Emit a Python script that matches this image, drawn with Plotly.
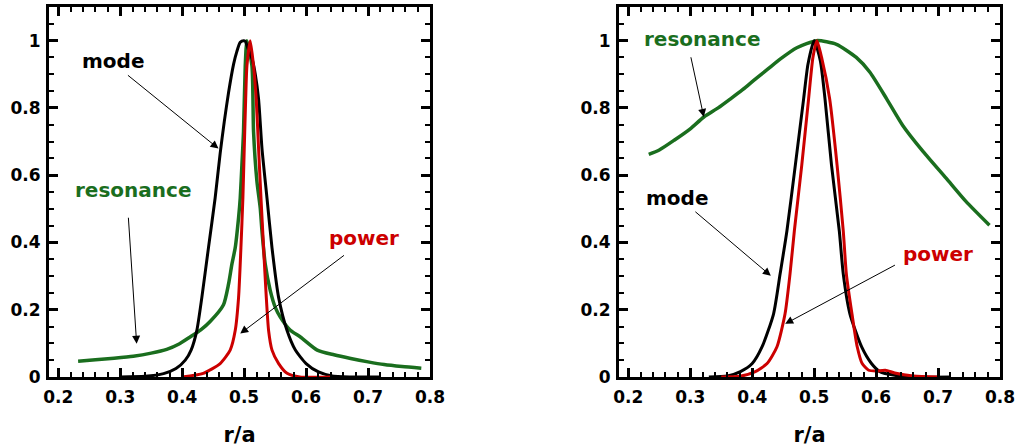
import plotly.graph_objects as go

# ---------------- data ----------------
# Left panel
left_mode_x = [0.30, 0.34, 0.37, 0.39, 0.405, 0.4144, 0.4236, 0.4317, 0.4424, 0.4532, 0.4613,
               0.468, 0.4748, 0.483, 0.4883, 0.4937, 0.4991, 0.5018, 0.507, 0.513, 0.518, 0.5233,
               0.5288, 0.5369, 0.545, 0.5557, 0.5693, 0.5827, 0.60, 0.62, 0.64, 0.67, 0.72]
left_mode_y = [0.0, 0.002, 0.01, 0.025, 0.05, 0.08, 0.138, 0.236, 0.384, 0.532, 0.665,
               0.76, 0.845, 0.93, 0.968, 0.995, 1.0, 0.998, 0.972, 0.945, 0.9, 0.827,
               0.68, 0.532, 0.384, 0.236, 0.138, 0.08, 0.04, 0.015, 0.004, 0.0, 0.0]

left_power_x = [0.40, 0.434, 0.4613, 0.4775, 0.4856, 0.491, 0.4948, 0.498, 0.5002, 0.5025, 0.5045,
                0.5099, 0.5152, 0.5195, 0.5233, 0.5272, 0.5314, 0.5358, 0.5395, 0.545, 0.5557,
                0.5693, 0.59, 0.64]
left_power_y = [0.0, 0.011, 0.04, 0.08, 0.138, 0.236, 0.384, 0.532, 0.68, 0.827, 0.925,
                1.0, 0.925, 0.827, 0.68, 0.532, 0.384, 0.236, 0.138, 0.08, 0.04,
                0.011, 0.0, 0.0]

left_res_x = [0.232, 0.26, 0.29, 0.321, 0.35, 0.375, 0.395, 0.4128, 0.43, 0.4451, 0.4667, 0.4748,
              0.4802, 0.4856, 0.491, 0.4937, 0.4964, 0.499, 0.5018, 0.5045, 0.5126, 0.5152,
              0.5207, 0.526, 0.5288, 0.5341, 0.5422, 0.5503, 0.5584, 0.5746, 0.5908, 0.618,
              0.645, 0.672, 0.70, 0.726, 0.755, 0.786]
left_res_y = [0.047, 0.051, 0.056, 0.062, 0.071, 0.082, 0.098, 0.119, 0.14, 0.165, 0.215, 0.276,
              0.335, 0.384, 0.473, 0.532, 0.63, 0.729, 0.925, 1.0, 0.925, 0.729,
              0.581, 0.502, 0.434, 0.335, 0.257, 0.207, 0.178, 0.139, 0.119, 0.08,
              0.066, 0.055, 0.045, 0.037, 0.031, 0.026]

# Right panel
right_mode_x = [0.33, 0.36, 0.381, 0.40, 0.416, 0.4345, 0.445, 0.456, 0.4696, 0.483, 0.49,
                0.50, 0.51, 0.5175, 0.528, 0.5406, 0.547, 0.5577, 0.5765, 0.5925, 0.606,
                0.63, 0.66, 0.72]
right_mode_y = [0.0, 0.003, 0.016, 0.04, 0.09, 0.188, 0.306, 0.434, 0.63, 0.827, 0.93,
                1.0, 0.94, 0.827, 0.63, 0.434, 0.306, 0.188, 0.09, 0.04, 0.016,
                0.005, 0.0, 0.0]

right_power_x = [0.35, 0.38, 0.405, 0.424, 0.44, 0.453, 0.461, 0.468, 0.48, 0.491, 0.498,
                 0.5045, 0.512, 0.525, 0.537, 0.547, 0.552, 0.561, 0.5695, 0.5775, 0.588,
                 0.60, 0.615, 0.63, 0.66, 0.70]
right_power_y = [0.0, 0.002, 0.016, 0.04, 0.09, 0.188, 0.306, 0.434, 0.63, 0.827, 0.95,
                 1.0, 0.95, 0.827, 0.63, 0.434, 0.306, 0.188, 0.09, 0.04, 0.02,
                 0.018, 0.02, 0.012, 0.003, 0.0]

right_res_x = [0.233, 0.25, 0.274, 0.30, 0.322, 0.345, 0.365, 0.385, 0.402, 0.425, 0.445,
               0.472, 0.504, 0.536, 0.568, 0.59, 0.617, 0.643, 0.676, 0.713, 0.745, 0.783]
right_res_y = [0.662, 0.675, 0.704, 0.738, 0.773, 0.80, 0.827, 0.855, 0.881, 0.915, 0.945,
               0.979, 1.0, 0.989, 0.95, 0.906, 0.827, 0.748, 0.67, 0.591, 0.522, 0.451]

x_tick_vals = [0.2, 0.3, 0.4, 0.5, 0.6, 0.7, 0.8]
x_tick_text = ["0.2", "0.3", "0.4", "0.5", "0.6", "0.7", "0.8"]
y_tick_vals = [0, 0.2, 0.4, 0.6, 0.8, 1.0]
y_tick_text = ["0", "0.2", "0.4", "0.6", "0.8", "1"]

BLACK = "#000000"
RED = "#cc0000"
GREEN = "#1a6e1e"
FONT = "DejaVu Sans"
X_RANGE = [0.185, 0.8]
Y_RANGE = [0, 1.1]

fig = go.Figure()

def add_line(x, y, color, xa, ya, width=3):
    fig.add_trace(go.Scatter(x=x, y=y, mode="lines", xaxis=xa, yaxis=ya,
                             line=dict(color=color, width=width, shape="spline", smoothing=0.6),
                             showlegend=False, hoverinfo="skip"))

add_line(left_res_x, left_res_y, GREEN, "x", "y", 3.5)
add_line(left_mode_x, left_mode_y, BLACK, "x", "y")
add_line(left_power_x, left_power_y, RED, "x", "y")

add_line(right_res_x, right_res_y, GREEN, "x2", "y2", 3.5)
add_line(right_mode_x, right_mode_y, BLACK, "x2", "y2")
add_line(right_power_x, right_power_y, RED, "x2", "y2")

tick_common = dict(
    ticks="inside", ticklen=9, tickwidth=2.5, tickcolor="black",
    showgrid=False, zeroline=False,
    tickfont=dict(family=FONT, size=17, color="black", weight="bold"),
)
x_minor = dict(dtick=0.02, tick0=0.2, ticks="inside", ticklen=5, tickwidth=2, tickcolor="black")
y_minor = dict(dtick=0.05, tick0=0, ticks="inside", ticklen=5, tickwidth=2, tickcolor="black")
title_font = dict(family=FONT, size=21, color="black", weight="bold")

def main_x(domain, anchor):
    return dict(domain=domain, anchor=anchor, range=X_RANGE, tickvals=x_tick_vals,
                ticktext=x_tick_text, minor=x_minor, ticklabelstandoff=3,
                showline=True, linewidth=3, linecolor="black", mirror=True,
                title=dict(text="r/a", font=title_font, standoff=21), **tick_common)

def main_y(anchor):
    return dict(anchor=anchor, range=Y_RANGE, tickvals=y_tick_vals, ticktext=y_tick_text,
                minor=y_minor, ticklabelstandoff=2,
                showline=True, linewidth=3, linecolor="black", mirror=True, **tick_common)

def top_x(over, anchor):
    return dict(overlaying=over, anchor=anchor, side="top", range=X_RANGE,
                tickvals=x_tick_vals, showticklabels=False, minor=x_minor,
                showline=False, **tick_common)

def right_y(over, anchor):
    return dict(overlaying=over, anchor=anchor, side="right", range=Y_RANGE,
                tickvals=y_tick_vals, showticklabels=False, minor=y_minor,
                showline=False, **tick_common)

fig.update_layout(
    xaxis=main_x([0.0, 0.4006], "y"),
    yaxis=main_y("x"),
    xaxis2=main_x([0.5994, 1.0], "y2"),
    yaxis2=main_y("x2"),
    xaxis3=top_x("x", "y"),
    yaxis3=right_y("y", "x"),
    xaxis4=top_x("x2", "y2"),
    yaxis4=right_y("y2", "x2"),
)

# invisible traces so the overlay axes are drawn
for xa, ya in (("x3", "y3"), ("x4", "y4")):
    fig.add_trace(go.Scatter(x=[None], y=[None], xaxis=xa, yaxis=ya, mode="lines",
                             showlegend=False, hoverinfo="skip"))

ann_font = lambda color: dict(family=FONT, size=20, color=color, weight="bold")

labels = [
    # (xref, yref, x, y, text, color)
    ("x", "y", 0.288, 0.938, "mode", BLACK),
    ("x", "y", 0.321, 0.557, "resonance", GREEN),
    ("x", "y", 0.693, 0.412, "power", RED),
    ("x2", "y2", 0.319, 1.004, "resonance", GREEN),
    ("x2", "y2", 0.279, 0.532, "mode", BLACK),
    ("x2", "y2", 0.6997, 0.365, "power", RED),
]
arrows = [
    # (xref, yref, tail_x, tail_y, head_x, head_y)
    ("x", "y", 0.310, 0.9006, 0.4586, 0.679),
    ("x", "y", 0.313, 0.478, 0.3265, 0.099),
    ("x", "y", 0.6636, 0.365, 0.4937, 0.129),
    ("x2", "y2", 0.3005, 0.955, 0.3219, 0.773),
    ("x2", "y2", 0.3058, 0.495, 0.430, 0.301),
    ("x2", "y2", 0.6328, 0.335, 0.4532, 0.158),
]

for xr, yr, x, y, t, col in labels:
    fig.add_annotation(xref=xr, yref=yr, x=x, y=y, text=t, showarrow=False,
                       font=ann_font(col), xanchor="center", yanchor="middle")

for xr, yr, tx, ty, hx, hy in arrows:
    fig.add_annotation(xref=xr, yref=yr, x=hx, y=hy, axref=xr, ayref=yr, ax=tx, ay=ty,
                       text="", showarrow=True, arrowhead=2, arrowsize=1.6,
                       arrowwidth=1, arrowcolor="black", standoff=0)

fig.update_layout(
    width=1020, height=447,
    margin=dict(l=49, r=20, t=4, b=70),
    plot_bgcolor="white", paper_bgcolor="white",
    showlegend=False,
)

fig.write_html("out.html")
